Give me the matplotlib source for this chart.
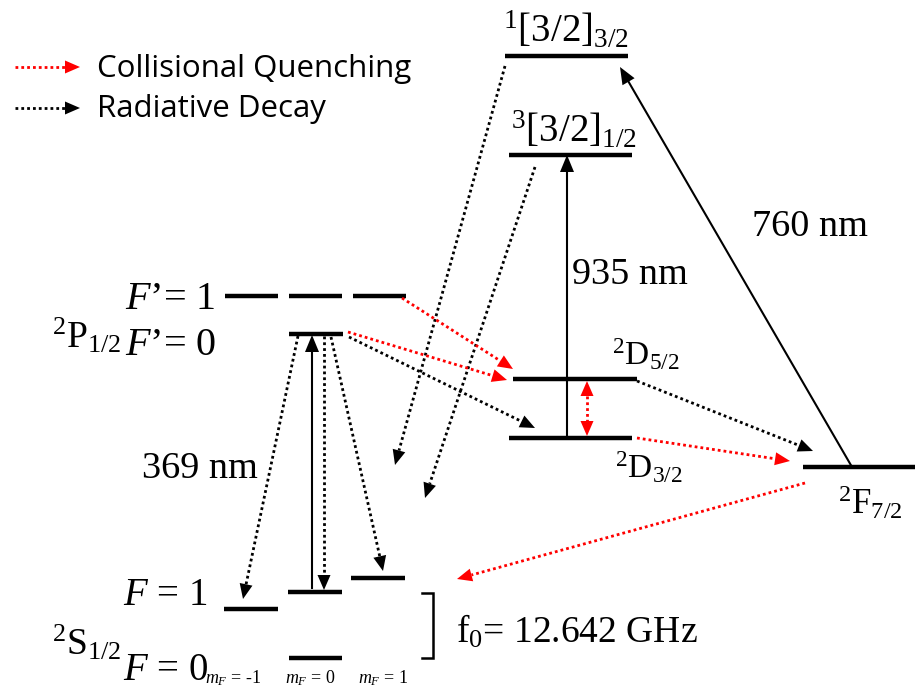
import numpy as np
import matplotlib
matplotlib.use("Agg")
import matplotlib.pyplot as plt
from matplotlib.patches import Polygon

plt.rcParams['font.family'] = ['Liberation Serif', 'DejaVu Sans']
plt.rcParams['mathtext.fontset'] = 'custom'
plt.rcParams['mathtext.rm'] = 'Liberation Serif'
plt.rcParams['mathtext.it'] = 'Liberation Serif:italic'

# energy levels: name -> (y, x_start, x_end), drawing units = pixels
level_names = ['1[3/2]', '3[3/2]', 'P_F1_m', 'P_F1_0', 'P_F1_p', 'P_F0',
               'D52', 'D32', 'F72', 'S_F1_m', 'S_F1_0', 'S_F1_p', 'S_F0']
level_y = [56, 155, 296, 296, 296, 334, 379, 438, 467, 609, 592, 578, 658]
level_x0 = [505, 509, 225, 289, 353, 289, 513, 509, 803, 224, 288, 351, 289]
level_x1 = [628, 632, 278, 342, 406, 343, 637, 632, 915, 278, 342, 405, 342]

# transitions: (x0, y0, x1, y1)
laser_lines = [(312, 588, 312, 335),      # 369 nm
               (567, 438, 567, 155),      # 935 nm
               (852, 467, 620, 67)]       # 760 nm
decay_lines = [(298, 336, 243, 599),
               (324, 336, 324, 590),
               (331, 337, 383, 571),
               (505, 66, 395, 465),
               (535, 167, 425, 498),
               (349, 337, 535, 428),
               (637, 381, 813, 451)]
quench_lines = [(402, 298, 513, 369),
                (348, 332, 507, 380),
                (637, 438, 790, 461),
                (805, 483, 457, 579)]
d_mixing = (587, 381, 587, 436)

wavelengths = ['369 nm', '935 nm', '760 nm']
wavelength_pos = [(142, 478), (572, 284), (752, 236)]

fig = plt.figure(figsize=(9.15, 6.88), dpi=100)
ax = fig.add_axes([0, 0, 1, 1])
ax.set_xlim(0, 915)
ax.set_ylim(688, 0)
ax.axis('off')


def head(x0, y0, x1, y1, color, length=15, half=6.5):
    d = np.array([x1 - x0, y1 - y0], dtype=float)
    d /= np.hypot(*d)
    n = np.array([-d[1], d[0]])
    tip = np.array([x1, y1])
    base = tip - d * length
    ax.add_patch(Polygon([tip, base + n * half, base - n * half],
                         closed=True, color=color, lw=0, zorder=4))
    return base


def arrow(x0, y0, x1, y1, color='black', dotted=True, both=False, length=15, half=6.5):
    b1 = head(x0, y0, x1, y1, color, length, half)
    b0 = (x0, y0)
    if both:
        b0 = head(x1, y1, x0, y0, color, length, half)
    if dotted:
        ax.plot([b0[0], b1[0]], [b0[1], b1[1]], color=color, lw=2.0,
                linestyle=(0, (1, 1.1)), dash_capstyle='butt', zorder=3)
    else:
        ax.plot([b0[0], b1[0]], [b0[1], b1[1]], color=color, lw=1.5, zorder=3)


for y, x0, x1 in zip(level_y, level_x0, level_x1):
    ax.plot([x0, x1], [y, y], color='black', lw=3.2, solid_capstyle='butt', zorder=2)

for x0, y0, x1, y1 in laser_lines:
    arrow(x0, y0, x1, y1, dotted=False, length=17, half=7)
for x0, y0, x1, y1 in decay_lines:
    arrow(x0, y0, x1, y1)
for x0, y0, x1, y1 in quench_lines:
    arrow(x0, y0, x1, y1, color='red')
arrow(*d_mixing, color='red', both=True)

# hyperfine bracket of the ground state
ax.plot([422, 433, 433, 422], [593, 593, 658, 658], color='black', lw=1.8,
        solid_joinstyle='miter')

for txt, (x, y) in zip(wavelengths, wavelength_pos):
    ax.text(x, y, txt, fontsize=27.5, va='baseline', ha='left')

ax.text(503, 42, r'$^{1}[3/2]_{3/2}$', fontsize=28, va='baseline')
ax.text(511, 142, r'$^{3}[3/2]_{1/2}$', fontsize=28, va='baseline')
ax.text(612, 365, r'$^{2}\mathrm{D}_{5/2}$', fontsize=24, va='baseline')
ax.text(615, 478, r'$^{2}\mathrm{D}_{3/2}$', fontsize=24, va='baseline')
ax.text(838, 514, r'$^{2}\mathrm{F}_{7/2}$', fontsize=25, va='baseline')
ax.text(52, 348, r'$^{2}\mathrm{P}_{1/2}$', fontsize=27, va='baseline')
ax.text(52, 655, r'$^{2}\mathrm{S}_{1/2}$', fontsize=27, va='baseline')
ax.text(125, 309, '$F$’= 1', fontsize=29, va='baseline')
ax.text(125, 355, '$F$’= 0', fontsize=29, va='baseline')
ax.text(123, 605, '$F$ = 1', fontsize=28, va='baseline')
ax.text(123, 680, '$F$ = 0', fontsize=28, va='baseline')
for x, m in zip([205, 285, 358], ['-1', '0', '1']):
    ax.text(x, 683, '$m_F$ = ' + m, fontsize=13, va='baseline')
ax.text(456, 643, 'f$_0$= 12.642 GHz', fontsize=27, va='baseline')

# legend
arrow(15, 67, 80, 67, color='red')
arrow(15, 108, 80, 108)
ax.text(97, 69, 'Collisional Quenching', family='Open Sans', fontsize=22.5, va='center')
ax.text(97, 109, 'Radiative Decay', family='Open Sans', fontsize=22.5, va='center')

fig.savefig('out.png', dpi=100)
